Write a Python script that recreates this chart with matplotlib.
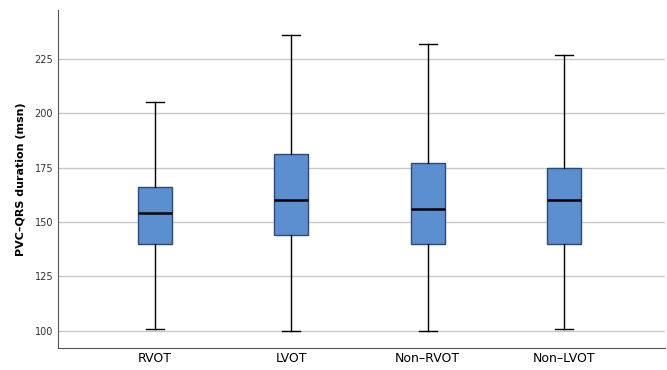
import matplotlib
matplotlib.use('Agg')
import matplotlib.pyplot as plt

# Valors llegits del gràfic (ms)
grups = ['RVOT', 'LVOT', 'Non–RVOT', 'Non–LVOT']
minims = [101, 100, 100, 101]
q1 = [140, 144, 140, 140]
medianes = [154, 160, 156, 160]
q3 = [166, 181.5, 177, 175]
maxims = [205, 236, 232, 227]
yticks = [100, 125, 150, 175, 200, 225]

stats = []
for nom, lo, a, m, b, hi in zip(grups, minims, q1, medianes, q3, maxims):
    stats.append({'label': nom, 'whislo': lo, 'q1': a, 'med': m,
                  'q3': b, 'whishi': hi, 'fliers': []})

fig = plt.figure(figsize=(6.67, 3.70), dpi=100)
ax = fig.add_axes([0.087, 0.06, 0.91, 0.913])

ax.bxp(stats, positions=range(1, len(grups) + 1), widths=0.25,
       patch_artist=True, showfliers=False,
       boxprops=dict(facecolor='#5b8fd0', edgecolor='#2c4a78', linewidth=1.0),
       medianprops=dict(color='black', linewidth=1.8),
       whiskerprops=dict(color='black', linewidth=1.0),
       capprops=dict(color='black', linewidth=1.0),
       capwidths=0.13)

ax.set_xlim(0.29, 4.74)
ax.set_ylim(92.2, 247.5)
ax.set_yticks(yticks)
ax.set_yticklabels([str(v) for v in yticks], fontsize=7, color='#333333')
ax.tick_params(axis='both', length=0)
ax.tick_params(axis='x', labelsize=9, pad=3)
ax.yaxis.grid(True, color='#c8c8c8', linewidth=1.0)
ax.set_axisbelow(True)

for s in ['top', 'right']:
    ax.spines[s].set_visible(False)
for s in ['left', 'bottom']:
    ax.spines[s].set_color('#555555')
    ax.spines[s].set_linewidth(0.8)

ax.set_ylabel('PVC–QRS duration (msn)', fontsize=8, fontweight='bold', labelpad=6)

fig.savefig('out.png', dpi=100)
